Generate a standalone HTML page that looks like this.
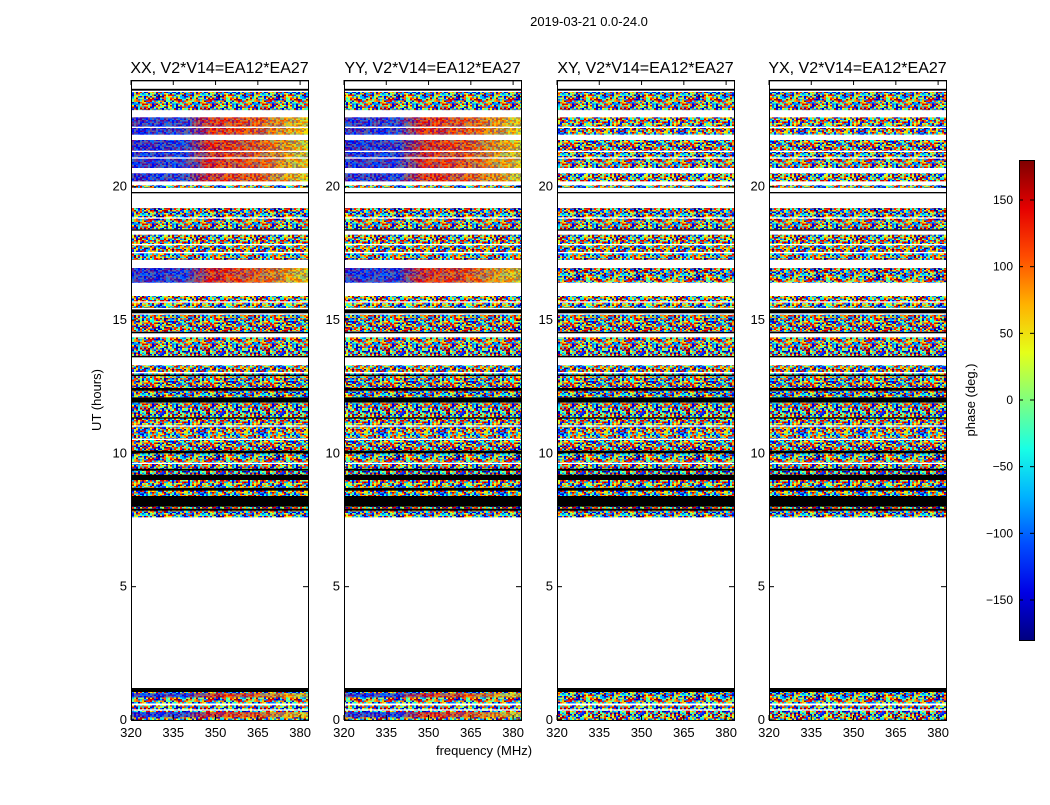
<!DOCTYPE html>
<html><head><meta charset="utf-8"><style>
body{margin:0;background:#fff;width:1050px;height:800px;overflow:hidden}
svg text{font-family:"Liberation Sans",sans-serif;fill:#000}
</style></head><body>
<svg id="chart" width="1050" height="800" xmlns="http://www.w3.org/2000/svg">
<defs id="defs"></defs>
<text x="589" y="26" font-size="13" text-anchor="middle">2019-03-21 0.0-24.0</text>
<text x="484" y="755" font-size="13" text-anchor="middle">frequency (MHz)</text>
<text transform="translate(101,400) rotate(-90)" font-size="13" text-anchor="middle">UT (hours)</text>
<g id="panels"></g>
<g id="cbar"></g>
</svg>
<script>
// data
const panelTitles = ["XX, V2*V14=EA12*EA27","YY, V2*V14=EA12*EA27","XY, V2*V14=EA12*EA27","YX, V2*V14=EA12*EA27"];
const panelHasGradient = [true,true,false,false];
const bandStart = [23.95,23.6,22.87,21.95,20.7,20.2,19.95,19.75,18.4,18.35,17.25,16.4,15.45,15.25,14.55,14.5,13.65,13.6,12.1,12.9,12.35,11.9,7.6,11.3,10.0,9.0,8.6,8.0,1.05,0.0,0.1,0.85,22.2,21.3,21.05,18.8,17.8,17.5,15.65,13.0,11.0,10.5,9.6,0.55,0.35,9.35,7.85];
const bandEnd   = [24.0,23.67,23.55,22.6,21.75,20.5,20.05,19.8,19.2,18.4,18.2,16.95,15.9,15.4,15.2,14.55,14.35,13.65,13.3,12.95,12.45,12.1,11.9,11.35,10.1,9.2,8.7,8.4,1.2,1.05,0.3,1.0,22.25,21.35,21.1,18.85,17.85,17.55,15.7,13.05,11.05,10.55,9.65,0.62,0.4,9.42,7.92];
const bandKind  = ["k","k","n","g","g","g","n","k","n","k","n","g","n","k","n","k","n","k","n","k","k","k","n","k","k","k","k","k","k","n","g","g","w","w","w","w","w","w","w","w","w","w","w","w","w","k","k"];
const yTicks = [0,5,10,15,20];
const xTicks = [320,335,350,365,380];
const cTicks = [-150,-100,-50,0,50,100,150];

const NS="http://www.w3.org/2000/svg";
const panelX=[131,344,557,769], PW=177, PT=80, PB=720;
const xMin=320,xMax=382.8,yMin=0,yMax=24;
function yS(h){return PB-(h-yMin)/(yMax-yMin)*(PB-PT);}
function xS(px,f){return px+(f-xMin)/(xMax-xMin)*PW;}
function jet(t){t=Math.max(0,Math.min(1,t));
 const r=Math.max(0,Math.min(1,1.5-Math.abs(4*t-3))),g=Math.max(0,Math.min(1,1.5-Math.abs(4*t-2))),b=Math.max(0,Math.min(1,1.5-Math.abs(4*t-1)));
 return `rgb(${r*255|0},${g*255|0},${b*255|0})`;}
function el(tag,attrs,parent){const e=document.createElementNS(NS,tag);for(const k in attrs)e.setAttribute(k,attrs[k]);parent.appendChild(e);return e;}
const defs=document.getElementById('defs');
// noise texture pattern (styling)
let seed=12345;function rnd(){seed=(seed*1103515245+12345)&0x7fffffff;return seed/0x7fffffff;}
const pat=el('pattern',{id:'noise',width:60,height:60,patternUnits:'userSpaceOnUse'},defs);
for(let i=0;i<30;i++)for(let j=0;j<40;j++){el('rect',{x:i*2,y:j*1.5,width:2,height:1.5,fill:jet(rnd())},pat);}
const grad=el('linearGradient',{id:'grad',x1:0,x2:1,y1:0,y2:0},defs);
[[0,0.12],[0.3,0.15],[0.45,0.88],[0.7,0.82],[1,0.65]].forEach(s=>el('stop',{offset:s[0],'stop-color':jet(s[1])},grad));
const cg=el('linearGradient',{id:'cgrad',x1:0,x2:0,y1:1,y2:0},defs);
for(let i=0;i<=10;i++)el('stop',{offset:i/10,'stop-color':jet(i/10)},cg);

const panels=document.getElementById('panels');
panelTitles.forEach((t,p)=>{
 const px=panelX[p];
 const g=el('g',{},panels);
 
 
 bandStart.forEach((s,i)=>{
  let k=bandKind[i]; if(k==='g'&&!panelHasGradient[p])k='n';
  const y0=yS(bandEnd[i]),h=yS(s)-y0;
  if(k==='k'){const r=el('rect',{x:px,y:y0,width:PW,height:h,fill:'#000'},g);}
  else if(k==='w'){const r=el('rect',{x:px,y:y0,width:PW,height:h,fill:'#fff'},g);}
  else if(k==='n'){const r=el('rect',{x:px,y:y0,width:PW,height:h,fill:'url(#noise)'},g);}
  else{const r=el('rect',{x:px,y:y0,width:PW,height:h,fill:'url(#grad)'},g);
   el('rect',{x:px,y:y0,width:PW,height:h,fill:'url(#noise)',opacity:0.4},g);}
 });
 const f=el('rect',{x:px+0.5,y:PT+0.5,width:PW,height:PB-PT,fill:'none',stroke:'#000','stroke-width':1},g);
 
 const tt=el('text',{x:px+PW/2,y:PT-7,'font-size':16,'text-anchor':'middle'},g);tt.textContent=t;
 
 yTicks.forEach(v=>{const y=yS(v);
  el('line',{x1:px,x2:px+5,y1:y,y2:y,stroke:'#000'},g);el('line',{x1:px+PW-5,x2:px+PW,y1:y,y2:y,stroke:'#000'},g);
  const l=el('text',{x:px-4,y:y+4,'font-size':13,'text-anchor':'end'},g);l.textContent=v;
  });
 xTicks.forEach(v=>{const x=xS(px,v);
  el('line',{x1:x,x2:x,y1:PB,y2:PB-5,stroke:'#000'},g);el('line',{x1:x,x2:x,y1:PT,y2:PT+5,stroke:'#000'},g);
  const l=el('text',{x:x,y:PB+17,'font-size':13,'text-anchor':'middle'},g);l.textContent=v;
  });
});
// colorbar
const cb=document.getElementById('cbar');
const CX=1019,CW=15,CT=160,CB=640;
const cr=el('rect',{x:CX+0.5,y:CT+0.5,width:CW,height:CB-CT,fill:'url(#cgrad)',stroke:'#000'},cb);

cTicks.forEach(v=>{const y=CB-(v+180)/360*(CB-CT);
 el('line',{x1:CX,x2:CX+4,y1:y,y2:y,stroke:'#000'},cb);el('line',{x1:CX+CW-4,x2:CX+CW,y1:y,y2:y,stroke:'#000'},cb);
 const l=el('text',{x:1013,y:y+4,'font-size':12,'text-anchor':'end'},cb);l.textContent=String(v).replace('-','\u2212');
 });
const cl=el('text',{transform:'translate(975,400) rotate(-90)','font-size':13,'text-anchor':'middle'},cb);cl.textContent='phase (deg.)';

</script>
</body></html>
